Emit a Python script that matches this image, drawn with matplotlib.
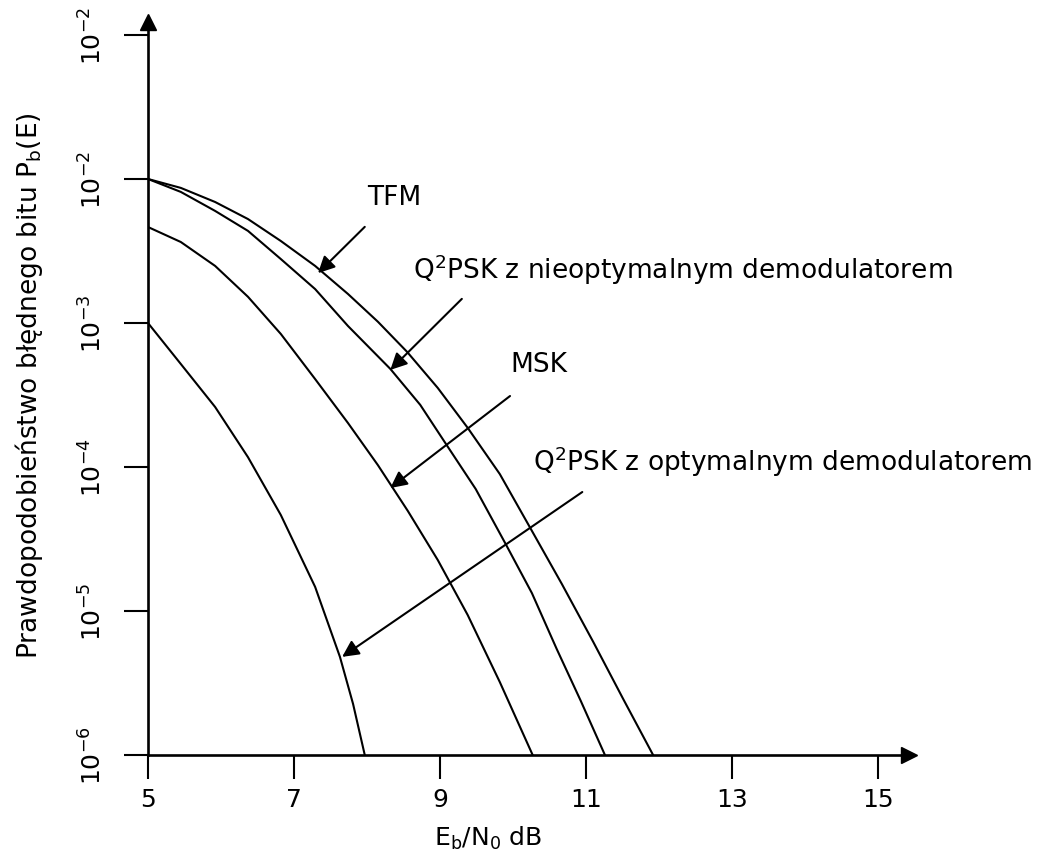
import numpy as np
import matplotlib
matplotlib.use('Agg')
import matplotlib.pyplot as plt
from matplotlib import rc

rc('font', **{'family': 'sans-serif', 'sans-serif': ['DejaVu Sans'], 'size': 18})
rc('mathtext', **{'default': 'regular'})

# Eb/N0 [dB] and bit error probability
x_tfm = [5.0, 5.45, 5.92, 6.37, 6.82, 7.29, 7.74, 8.15, 8.55, 8.97, 9.38, 9.82,
         10.23, 10.67, 11.10, 11.51, 11.92]
p_tfm = [1.0e-2, 8.67e-3, 6.92e-3, 5.27e-3, 3.71e-3, 2.49e-3, 1.59e-3, 1.02e-3,
         6.30e-4, 3.54e-4, 1.87e-4, 8.93e-5, 3.83e-5, 1.54e-5, 6.10e-6, 2.45e-6, 1.0e-6]

x_q2_sub = [5.0, 5.45, 5.92, 6.37, 6.82, 7.29, 7.74, 8.32, 8.73, 9.10, 9.49, 9.90,
            10.26, 10.60, 10.93, 11.26]
p_q2_sub = [1.0e-2, 8.13e-3, 6.00e-3, 4.36e-3, 2.78e-3, 1.72e-3, 9.53e-4, 4.80e-4,
            2.70e-4, 1.40e-4, 7.03e-5, 2.92e-5, 1.33e-5, 5.44e-6, 2.37e-6, 1.0e-6]

x_msk = [5.0, 5.45, 5.92, 6.37, 6.82, 7.29, 7.74, 8.15, 8.56, 8.97, 9.38, 9.82, 10.27]
p_msk = [4.64e-3, 3.65e-3, 2.49e-3, 1.52e-3, 8.39e-4, 4.08e-4, 2.02e-4, 1.03e-4,
         4.95e-5, 2.26e-5, 9.38e-6, 3.21e-6, 1.0e-6]

x_q2_opt = [5.0, 5.45, 5.92, 6.37, 6.82, 7.29, 7.63, 7.81, 7.97]
p_q2_opt = [1.0e-3, 5.19e-4, 2.61e-4, 1.17e-4, 4.64e-5, 1.47e-5, 4.80e-6, 2.26e-6, 1.0e-6]

x_ticks = [5, 7, 9, 11, 13, 15]
y_ticks = [1e-6, 1e-5, 1e-4, 1e-3, 1e-2, 1e-1]
y_ticklabels = ['$10^{-6}$', '$10^{-5}$', '$10^{-4}$', '$10^{-3}$', '$10^{-2}$', '$10^{-2}$']

# label text, text anchor (x, p), arrow tail (x, p), arrow tip (x, p)
labels = [
    ('TFM', (8.00, 7.5e-3), (7.97, 4.65e-3), (7.33, 2.22e-3)),
    ('Q$^2$PSK z nieoptymalnym demodulatorem', (8.63, 2.37e-3), (9.30, 1.47e-3), (8.32, 4.72e-4)),
    ('MSK', (9.96, 5.19e-4), (9.96, 3.11e-4), (8.32, 7.14e-5)),
    ('Q$^2$PSK z optymalnym demodulatorem', (10.27, 1.10e-4), (10.95, 6.70e-5), (7.66, 4.80e-6)),
]

fig = plt.figure(figsize=(10.42, 8.62), dpi=100)
ax = fig.add_axes([0.1420, 0.1230, 0.7303, 0.8503])

for xs, ps in [(x_tfm, p_tfm), (x_q2_sub, p_q2_sub), (x_msk, p_msk), (x_q2_opt, p_q2_opt)]:
    ax.semilogy(xs, ps, color='k', lw=1.5)

ax.set_xlim(5, 15.425)
ax.set_ylim(1e-6, 10 ** -0.91)

ax.spines['top'].set_visible(False)
ax.spines['right'].set_visible(False)
ax.spines['left'].set_linewidth(1.9)
ax.spines['bottom'].set_linewidth(1.9)
ax.plot(1, 0, '>k', ms=12, transform=ax.transAxes, clip_on=False)
ax.plot(0, 1, '^k', ms=12, transform=ax.transAxes, clip_on=False)

ax.set_xticks(x_ticks)
ax.set_xticklabels([str(t) for t in x_ticks])
ax.set_yticks(y_ticks)
ax.set_yticklabels(y_ticklabels, rotation=90, va='center')
ax.minorticks_off()
ax.tick_params(axis='both', direction='out', length=17, width=1.5, labelsize=18)
ax.tick_params(axis='x', pad=6)
ax.tick_params(axis='y', pad=13)

for text, pos, tail, tip in labels:
    ax.text(pos[0], pos[1], text, ha='left', va='center', fontsize=19)
    ax.annotate('', xy=tip, xytext=tail,
                arrowprops=dict(arrowstyle='-|>', color='k', lw=1.5,
                                mutation_scale=25, shrinkA=0, shrinkB=0))

ax.set_xlabel('E$_b$/N$_0$ dB', fontsize=18)
ax.xaxis.set_label_coords(0.447, -0.094)
ax.set_ylabel('Prawdopodobieństwo błędnego bitu P$_b$(E)', fontsize=19)
ax.yaxis.set_label_coords(-0.135, 0.505)

fig.savefig('out.png', dpi=100)
